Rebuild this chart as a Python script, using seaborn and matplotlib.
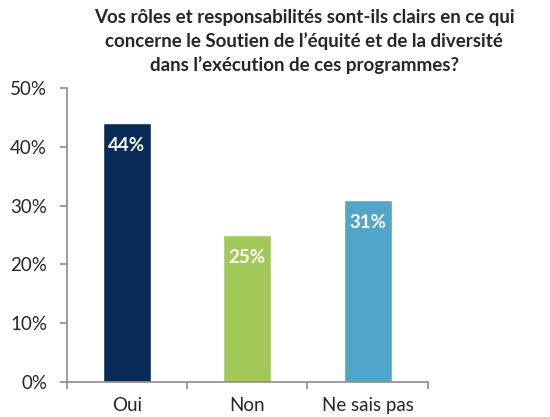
import matplotlib
matplotlib.use("Agg")
import matplotlib.pyplot as plt
import seaborn as sns
import pandas as pd
from matplotlib.ticker import PercentFormatter, FixedLocator

# data
categories = ["Oui", "Non", "Ne sais pas"]
values = [44, 25, 31]
colors = ["#082B57", "#A3C85A", "#50A5C8"]
title = ("Vos rôles et responsabilités sont-ils clairs en ce qui\n"
         "concerne le Soutien de l’équité et de la diversité\n"
         "dans l’exécution de ces programmes?")

df = pd.DataFrame({"cat": categories, "val": values})

sns.set_style("white")
plt.rcParams["font.family"] = ["Lato", "DejaVu Sans"]

fig = plt.figure(figsize=(5.5, 4.17), dpi=100)
ax = fig.add_axes([0.121, 0.084, 0.657, 0.705])

sns.barplot(data=df, x="cat", y="val", hue="cat", palette=colors,
            width=0.4, legend=False, ax=ax, saturation=1)

# value labels, white, inside the top of each bar
for i, v in enumerate(values):
    ax.text(i, v - 3.8, f"{v}%", ha="center", va="center",
            color="white", fontsize=13.5, fontweight="bold")

ax.set_ylim(0, 50)
ax.set_xlim(-0.5, 2.5)
ax.yaxis.set_major_formatter(PercentFormatter(decimals=0))
ax.set_yticks(range(0, 51, 10))
ax.set_xlabel("")
ax.set_ylabel("")

for s in ["top", "right"]:
    ax.spines[s].set_visible(False)
for s in ["left", "bottom"]:
    ax.spines[s].set_color("#8C8C8C")
    ax.spines[s].set_linewidth(1.2)

# Excel-style ticks between categories
ax.xaxis.set_minor_locator(FixedLocator([-0.5, 0.5, 1.5, 2.5]))
ax.tick_params(axis="x", which="minor", length=5, width=1.2, color="#8C8C8C", bottom=True)
ax.tick_params(axis="x", which="major", length=0, labelsize=13.5, pad=11)
ax.tick_params(axis="y", length=5, width=1.2, color="#8C8C8C", labelsize=13.5, left=True, pad=9)

fig.text(0.553, 0.978, title, ha="center", va="top", fontsize=13.5,
         fontweight="bold", linespacing=1.42)

fig.savefig("out.png", dpi=100)
